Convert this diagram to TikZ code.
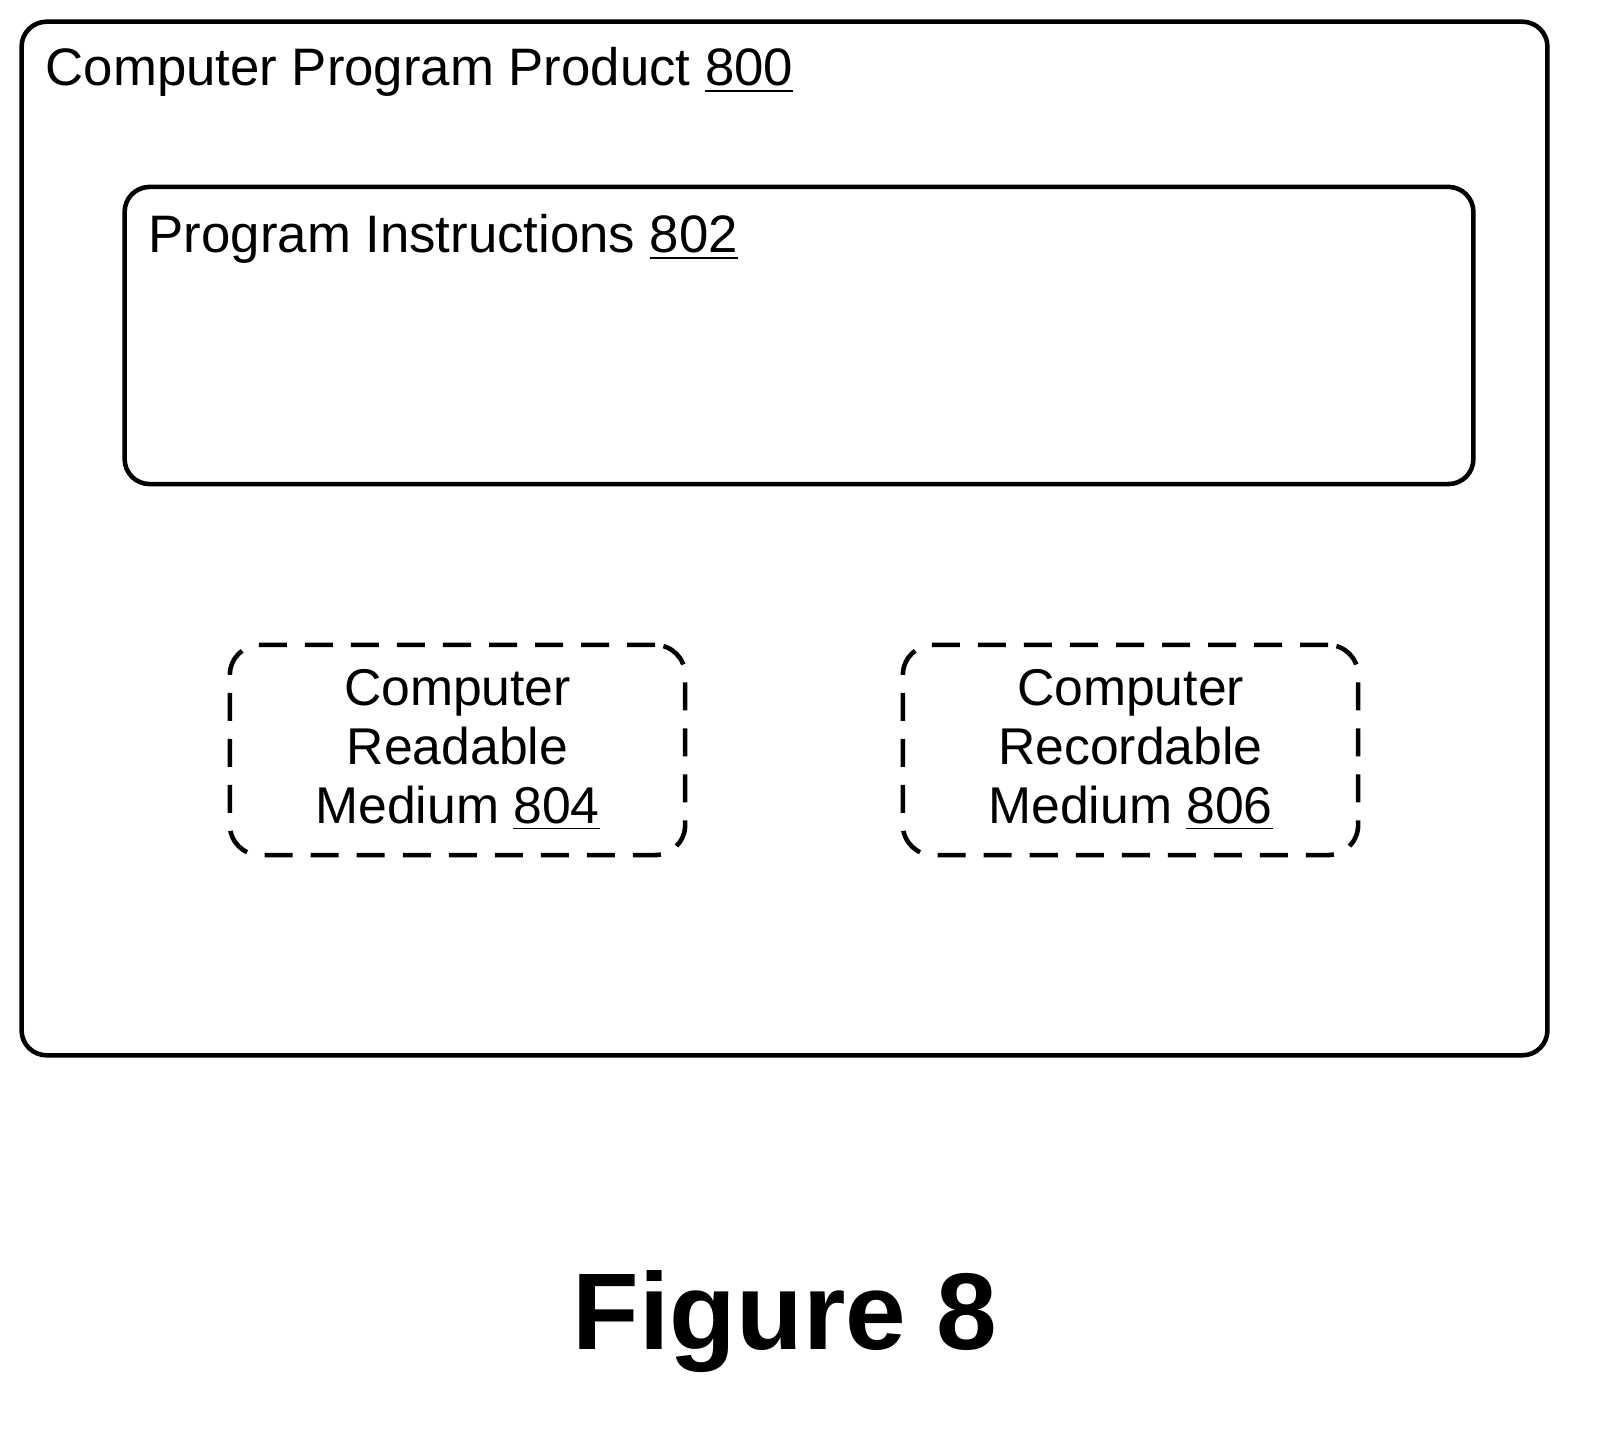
\documentclass[tikz,border=0pt]{standalone}
\usepackage{fontspec}
\setmainfont{Liberation Sans}
\usetikzlibrary{positioning}

\begin{document}
\begin{tikzpicture}[
    x=0.01cm, y=-0.01cm,
    box/.style={draw, line width=1.3pt, rounded corners=0.25cm},
    medium/.style={draw, line width=1.3pt, rounded corners=0.3cm, dash pattern=on 0.28cm off 0.18cm,
        minimum width=4.55cm, minimum height=2.1cm, align=center, font=\fontsize{14.7}{16.8}\selectfont},
    lbl/.style={anchor=west, font=\fontsize{15}{18}\selectfont, inner sep=0pt}
]
\useasboundingbox (0,0) rectangle (1599,1431);

% Outer product box
\node[box, minimum width=15.25cm, minimum height=10.33cm] (product) at (784.5,538.5) {};
\node[lbl] (productlbl) at (45,72) {Computer Program Product \underline{800}};

% Program instructions
\node[box, minimum width=13.48cm, minimum height=2.97cm] (instr) at (799,335.5) {};
\node[lbl] (instrlbl) at (148,239) {Program Instructions \underline{802}};

% Media
\node[medium] (readable) at (457.5,750) {Computer\\Readable\\Medium \underline{804}};
\node[medium] (recordable) at (1130.5,750) {Computer\\Recordable\\Medium \underline{806}};

% Caption
\node[font=\fontsize{31}{36}\selectfont\bfseries] (caption) at (785,1322) {Figure 8};
\end{tikzpicture}
\end{document}
